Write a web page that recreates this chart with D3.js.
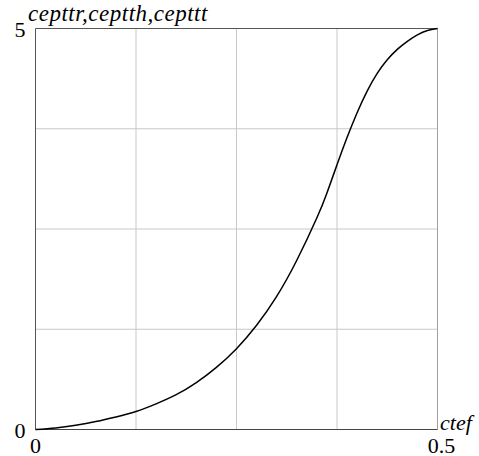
<!DOCTYPE html>
<html><head><meta charset="utf-8">
<script src="https://cdn.jsdelivr.net/npm/d3@7"></script>
<style>html,body{margin:0;padding:0;background:#fff;} text{font-family:"Liberation Serif","Tinos","Times New Roman","Times","DejaVu Serif","Noto Serif",serif;}</style>
</head><body>
<script>
const xValues = [0, 0.025, 0.05, 0.075, 0.1, 0.125, 0.15, 0.175, 0.2, 0.225, 0.25, 0.275, 0.3, 0.325, 0.35, 0.3625, 0.375, 0.3875, 0.4, 0.4125, 0.425, 0.4375, 0.45, 0.4625, 0.475, 0.4875, 0.5];
const yValues = [0, 0.02, 0.054, 0.10, 0.157, 0.225, 0.32, 0.434, 0.585, 0.775, 1.008, 1.30, 1.66, 2.11, 2.64, 2.95, 3.30, 3.64, 3.95, 4.22, 4.44, 4.61, 4.74, 4.84, 4.92, 4.975, 5];
const xTickLabels = ["0", "0.5"];
const yTickLabels = ["0", "5"];
const xGrid = [0.125, 0.25, 0.375];
const yGrid = [1.25, 2.5, 3.75];
const yAxisTitle = "cepttr,ceptth,cepttt";
const xAxisTitle = "ctef";

const W = 479, H = 456;
const svg = d3.select("body").append("svg").attr("width", W).attr("height", H);
const x = d3.scaleLinear().domain([0, 0.5]).range([35.5, 437.5]);
const y = d3.scaleLinear().domain([0, 5]).range([429.5, 28.5]);

// grid
svg.selectAll(".gx").data(xGrid).enter().append("line")
  .attr("x1", d => x(d)).attr("x2", d => x(d)).attr("y1", y(0)).attr("y2", y(5))
  .attr("stroke", "#c8c8c8").attr("stroke-width", 1);
svg.selectAll(".gy").data(yGrid).enter().append("line")
  .attr("y1", d => y(d)).attr("y2", d => y(d)).attr("x1", x(0)).attr("x2", x(0.5))
  .attr("stroke", "#c8c8c8").attr("stroke-width", 1);

// frame
svg.append("line").attr("x1", x(0.5)).attr("x2", x(0.5)).attr("y1", y(0)).attr("y2", y(5)).attr("stroke", "#a0a0a0");
svg.append("line").attr("x1", x(0)).attr("x2", x(0.5)).attr("y1", y(5)).attr("y2", y(5)).attr("stroke", "#555");
svg.append("line").attr("x1", x(0)).attr("x2", x(0)).attr("y1", y(0)).attr("y2", y(5)).attr("stroke", "#555");
svg.append("line").attr("x1", x(0)).attr("x2", x(0.5)).attr("y1", y(0)).attr("y2", y(0)).attr("stroke", "#444");

// curve
const data = xValues.map((v, i) => [v, yValues[i]]);
svg.append("path").datum(data)
  .attr("d", d3.line().x(d => x(d[0])).y(d => y(d[1])).curve(d3.curveNatural))
  .attr("fill", "none").attr("stroke", "#000").attr("stroke-width", 1.5);

// y tick labels
const yTickVals = [0, 5];
svg.selectAll(".yl").data(yTickVals).enter().append("text")
  .attr("x", x(0) - 10).attr("y", d => y(d) + 8)
  .attr("text-anchor", "end").attr("font-size", 22)
  .text((d, i) => yTickLabels[i]);
// x tick labels
const xTickVals = [0, 0.5];
svg.selectAll(".xl").data(xTickVals).enter().append("text")
  .attr("x", (d, i) => x(d) + (i === 1 ? 4 : 0)).attr("y", y(0) + 23)
  .attr("text-anchor", "middle").attr("font-size", 22)
  .text((d, i) => xTickLabels[i]);

// axis titles
svg.append("text").attr("x", 28).attr("y", 21)
  .attr("font-style", "italic").attr("font-size", 23).attr("letter-spacing", 0.5)
  .text(yAxisTitle);
svg.append("text").attr("x", 440).attr("y", 430)
  .attr("font-style", "italic").attr("font-size", 22)
  .text(xAxisTitle);
</script>
</body></html>
